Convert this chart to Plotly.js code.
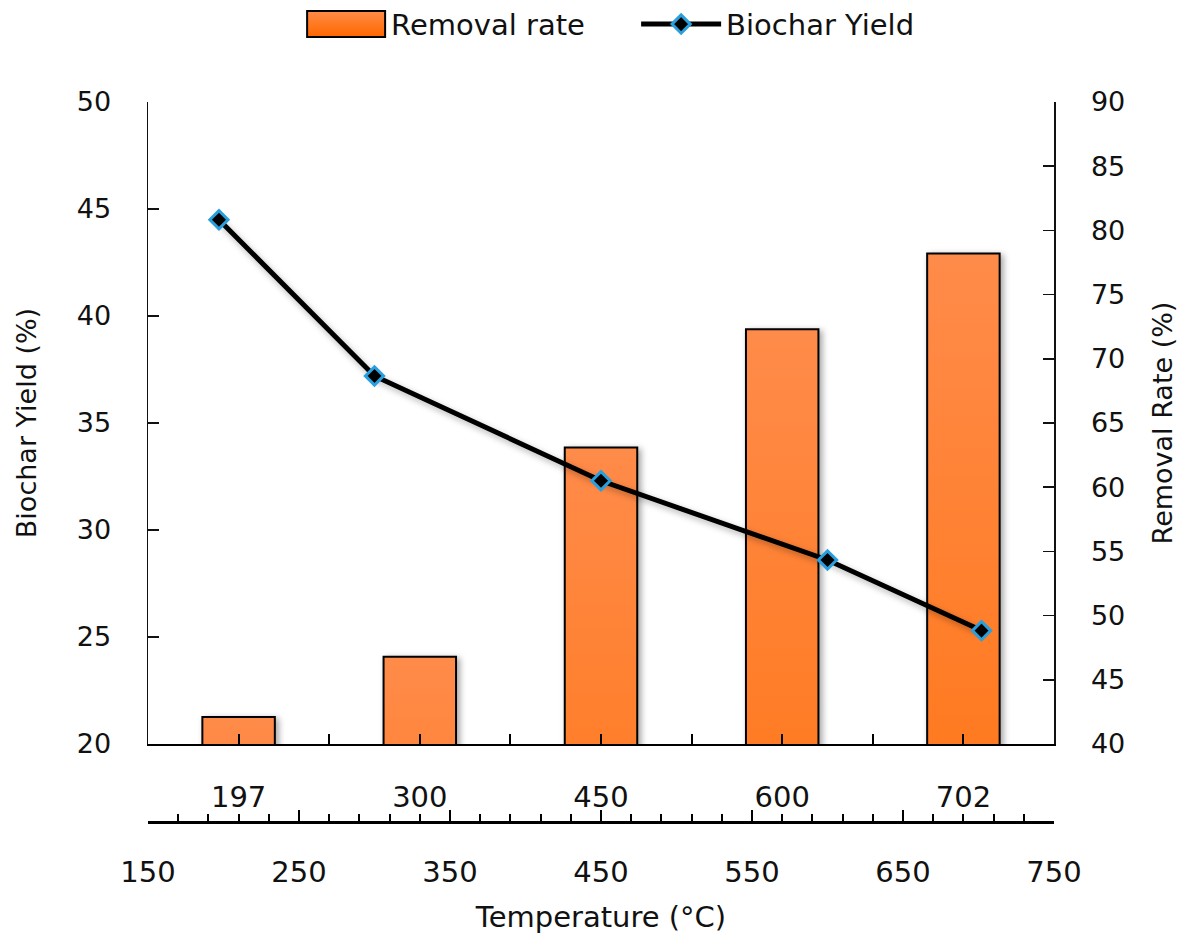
<!DOCTYPE html>
<html>
<head>
<meta charset="utf-8">
<script src="https://cdn.plot.ly/plotly-3.0.1.min.js"></script>
<style>
  html, body { margin: 0; padding: 0; background: #fff; }
  #plot { width: 1192px; height: 950px; }
</style>
</head>
<body>
<div id="plot"></div>
<script>
// temperatures of the runs (degC)
var temperatures = [197, 300, 450, 600, 702];
var categoryLabels = ["197", "300", "450", "600", "702"];

// Removal rate (%) - bars, right axis
var removalRate = [42.1, 46.8, 63.1, 72.3, 78.2];

// Biochar yield (%) - line, left axis
var biocharYield = [44.5, 37.2, 32.3, 28.6, 25.3];

var fontFamily = "DejaVu Sans, sans-serif";

// bars sit on the category axis (one slot per run)
var trace1 = {
  x: categoryLabels.map(function (c, i) { return i; }),
  y: removalRate,
  name: "Removal rate",
  type: "bar",
  width: 0.4,
  xaxis: "x",
  yaxis: "y",
  marker: { color: "#FF7A20", line: { color: "#000", width: 2 } }
};

// line uses the real temperature scale underneath
var trace2 = {
  x: temperatures,
  y: biocharYield,
  name: "Biochar Yield",
  type: "scatter",
  mode: "lines+markers",
  xaxis: "x2",
  yaxis: "y2",
  line: { color: "#000", width: 5 },
  marker: { symbol: "diamond", size: 14, color: "#000", line: { color: "#2A9FDE", width: 3 } }
};

var data = [trace1, trace2];

var layout = {
  width: 1192,
  height: 950,
  margin: { l: 148, r: 138, t: 102, b: 128, autoexpand: false },
  paper_bgcolor: "#fff",
  plot_bgcolor: "rgba(0,0,0,0)",
  font: { family: fontFamily, size: 27, color: "#111" },
  showlegend: true,
  legend: {
    orientation: "h",
    x: 0.169, xanchor: "left",
    y: 1.108, yanchor: "middle",
    font: { family: fontFamily, size: 29, color: "#111" },
    itemwidth: 80,
    entrywidth: 240,
    entrywidthmode: "pixels",
    traceorder: "normal"
  },
  // category axis for the bars
  xaxis: {
    range: [-0.5, 4.5],
    anchor: "y",
    showgrid: false, zeroline: false,
    showline: true, linecolor: "#000", linewidth: 2,
    tickmode: "array",
    tickvals: categoryLabels.map(function (c, i) { return i; }),
    ticktext: categoryLabels,
    ticks: "inside", ticklen: 10, tickwidth: 2, tickcolor: "#000",
    ticklabelstandoff: 26,
    minor: { tick0: -0.5, dtick: 1, ticks: "inside", ticklen: 10, tickwidth: 2, tickcolor: "#000" },
    tickfont: { family: fontFamily, size: 29, color: "#111" },
    fixedrange: true
  },
  // temperature axis
  xaxis2: {
    range: [150, 750],
    overlaying: "x",
    anchor: "free",
    position: 0,
    side: "bottom",
    showgrid: false, zeroline: false,
    showline: true, linecolor: "#000", linewidth: 2.5,
    tick0: 150, dtick: 100,
    ticks: "inside", ticklen: 11, tickwidth: 2, tickcolor: "#000",
    ticklabelstandoff: 24,
    minor: { tick0: 150, dtick: 20, ticks: "inside", ticklen: 7, tickwidth: 2, tickcolor: "#000" },
    tickfont: { family: fontFamily, size: 29, color: "#111" },
    title: { text: "Temperature (°C)", standoff: 18, font: { family: fontFamily, size: 29, color: "#111" } },
    fixedrange: true
  },
  // removal rate (right)
  yaxis: {
    range: [40, 90],
    domain: [0.1083, 1],
    side: "right",
    anchor: "x",
    showgrid: false, zeroline: false,
    showline: true, linecolor: "#111", linewidth: 1.5,
    dtick: 5,
    ticks: "inside", ticklen: 11, tickwidth: 1.5, tickcolor: "#111",
    ticklabelstandoff: 30,
    tickfont: { family: fontFamily, size: 27, color: "#111" },
    title: { text: "Removal Rate (%)", standoff: 29, font: { family: fontFamily, size: 27, color: "#111" } },
    fixedrange: true
  },
  // biochar yield (left)
  yaxis2: {
    range: [20, 50],
    overlaying: "y",
    side: "left",
    anchor: "x",
    showgrid: false, zeroline: false,
    showline: true, linecolor: "#111", linewidth: 1.5,
    dtick: 5,
    ticks: "inside", ticklen: 11, tickwidth: 1.5, tickcolor: "#111",
    ticklabelstandoff: 30,
    tickfont: { family: fontFamily, size: 27, color: "#111" },
    title: { text: "Biochar Yield (%)", standoff: 32, font: { family: fontFamily, size: 27, color: "#111" } },
    fixedrange: true
  }
};

Plotly.newPlot("plot", data, layout, { staticPlot: true, displayModeBar: false }).then(function (gd) {
  // orange gradient + soft shadow like the original figure
  var ns = "http://www.w3.org/2000/svg";
  var svg = gd.querySelector(".main-svg");
  var defs = svg.querySelector("defs") || svg.insertBefore(document.createElementNS(ns, "defs"), svg.firstChild);
  var grad = document.createElementNS(ns, "linearGradient");
  grad.setAttribute("id", "barGrad");
  grad.setAttribute("x1", "0"); grad.setAttribute("y1", "0");
  grad.setAttribute("x2", "0"); grad.setAttribute("y2", "1");
  [["0", "#FF8B4A"], ["0.5", "#FF7A20"], ["1", "#FF6600"]].forEach(function (s) {
    var stop = document.createElementNS(ns, "stop");
    stop.setAttribute("offset", s[0]);
    stop.setAttribute("stop-color", s[1]);
    grad.appendChild(stop);
  });
  defs.appendChild(grad);
  gd.querySelectorAll(".barlayer .point path").forEach(function (p) {
    p.style.fill = "url(#barGrad)";
    p.style.filter = "drop-shadow(3px 2px 3px rgba(0,0,0,0.35))";
  });
  gd.querySelectorAll(".scatterlayer .js-line").forEach(function (p) {
    p.style.filter = "drop-shadow(2px 3px 3px rgba(0,0,0,0.3))";
  });
  // wide box key for the bar entry, as in the original legend
  gd.querySelectorAll(".legend .legendpoints path.legendundefined, .legend .legendbar path").forEach(function (p) {
    p.setAttribute("d", "M39,13H-39V-13H39Z");
    p.style.fill = "url(#barGrad)";
  });
});
</script>
</body>
</html>
